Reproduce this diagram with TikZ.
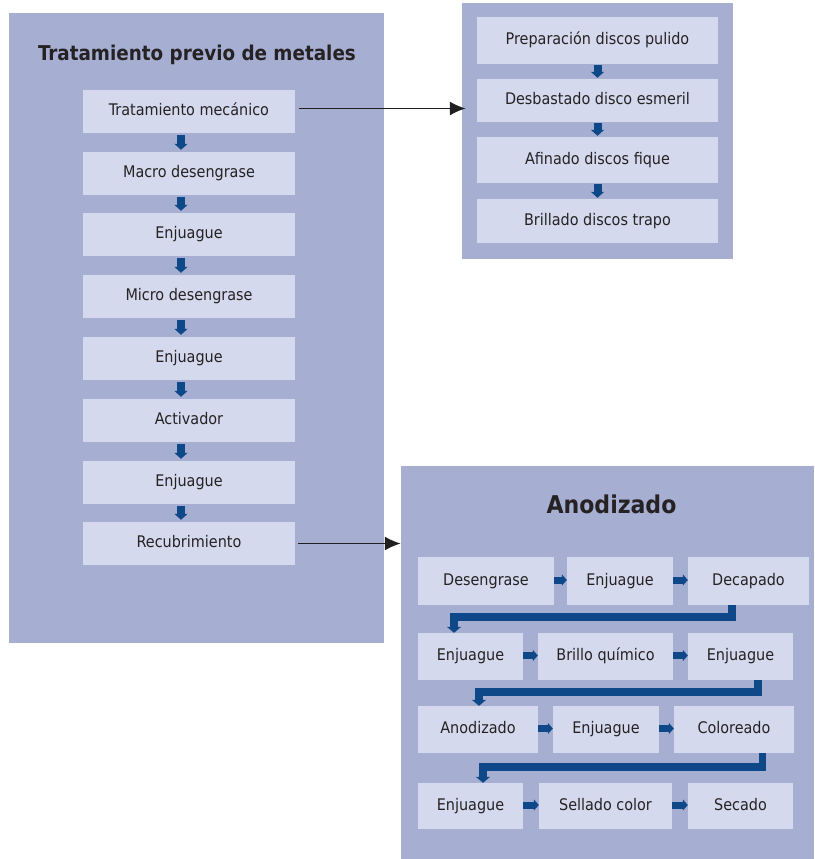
\documentclass[tikz,border=0pt]{standalone}
\usepackage{fontspec}
\setmainfont{DejaVu Sans Condensed}
\usetikzlibrary{arrows.meta}
\definecolor{panelc}{RGB}{166,174,210}
\definecolor{boxc}{RGB}{212,217,237}
\definecolor{flowc}{RGB}{14,72,136}
\definecolor{inkc}{RGB}{38,34,36}
\definecolor{linkc}{RGB}{32,32,32}
\begin{document}
\begin{tikzpicture}[x=1pt,y=-1pt,
  panel/.style={fill=panelc, draw=none, inner sep=0pt},
  stepbox/.style={fill=boxc, draw=none, inner sep=0pt, text=inkc,
    font=\fontsize{16}{18}\selectfont, text height=12.5pt, text depth=4pt},
  heading/.style={text=inkc, anchor=base, inner sep=0pt},
  down/.style={draw=flowc, line width=8pt, -{Triangle[length=6pt,width=13pt]}},
  right/.style={draw=flowc, line width=7pt, -{Triangle[length=5pt,width=11pt]}},
  flow/.style={draw=flowc, line width=7.5pt, -{Triangle[length=6pt,width=14pt]}},
  link/.style={draw=linkc, line width=1.7pt, -{Latex[length=16pt,width=14pt]}}]
\useasboundingbox (0,0) rectangle (814,859);

% panels
\node[panel, minimum width=375pt, minimum height=630pt] (pre) at (196.5,328) {};
\node[panel, minimum width=271pt, minimum height=256pt] (pul) at (597.5,131) {};
\node[panel, minimum width=413pt, minimum height=393pt] (ano) at (607.5,662.5) {};

% titles
\node[heading, font=\bfseries\fontsize{20.4}{24}\selectfont] (t1) at (197,60) {Tratamiento previo de metales};
\node[heading, font=\bfseries\fontsize{24.5}{28}\selectfont] (t2) at (611.5,513) {Anodizado};

% pre-treatment column
\foreach \n/\y/\txt in {m1/111.5/Tratamiento mecánico, m2/173.5/Macro desengrase,
    m3/234.5/Enjuague, m4/296.5/Micro desengrase, m5/358.5/Enjuague,
    m6/420.5/Activador, m7/482.5/Enjuague, m8/543.5/Recubrimiento}
  \node[stepbox, minimum width=212pt, minimum height=43pt] (\n) at (189,\y) {\txt};
\foreach \a/\b in {m1/m2,m2/m3,m3/m4,m4/m5,m5/m6,m6/m7,m7/m8}
  \draw[down, shorten <=2pt, shorten >=2pt] ([xshift=-8pt]\a.south) -- ([xshift=-8pt]\b.north);

% polishing column
\node[stepbox, minimum width=241pt, minimum height=47pt] (p1) at (597.5,40.5) {Preparación discos pulido};
\node[stepbox, minimum width=241pt, minimum height=43pt] (p2) at (597.5,100.5) {Desbastado disco esmeril};
\node[stepbox, minimum width=241pt, minimum height=46pt] (p3) at (597.5,160) {Afinado discos fique};
\node[stepbox, minimum width=241pt, minimum height=44pt] (p4) at (597.5,221) {Brillado discos trapo};
\foreach \a/\b in {p1/p2,p2/p3,p3/p4}
  \draw[down, shorten <=1pt, shorten >=1pt] (\a.south) -- (\b.north);

% anodizing rows
\node[stepbox, minimum width=136pt, minimum height=48pt] (a1) at (486,581) {Desengrase};
\node[stepbox, minimum width=106pt, minimum height=48pt] (a2) at (620,581) {Enjuague};
\node[stepbox, minimum width=121pt, minimum height=48pt] (a3) at (748.5,581) {Decapado};
\node[stepbox, minimum width=105pt, minimum height=47pt] (a4) at (470.5,656.5) {Enjuague};
\node[stepbox, minimum width=135pt, minimum height=47pt] (a5) at (605.5,656.5) {Brillo químico};
\node[stepbox, minimum width=105pt, minimum height=47pt] (a6) at (740.5,656.5) {Enjuague};
\node[stepbox, minimum width=120pt, minimum height=47pt] (a7) at (478,729.5) {Anodizado};
\node[stepbox, minimum width=106pt, minimum height=47pt] (a8) at (606,729.5) {Enjuague};
\node[stepbox, minimum width=120pt, minimum height=47pt] (a9) at (734,729.5) {Coloreado};
\node[stepbox, minimum width=105pt, minimum height=46pt] (a10) at (470.5,806) {Enjuague};
\node[stepbox, minimum width=133pt, minimum height=46pt] (a11) at (605.5,806) {Sellado color};
\node[stepbox, minimum width=105pt, minimum height=46pt] (a12) at (740.5,806) {Secado};

\foreach \a/\b in {a1/a2,a2/a3,a4/a5,a5/a6,a7/a8,a8/a9,a10/a11,a11/a12}
  \draw[right] ([yshift=1pt]\a.east) -- ([yshift=1pt]\b.west);

\draw[flow] ([xshift=-16.5pt]a3.south) -- ++(0,12) -| ([xshift=-16.5pt]a4.north);
\draw[flow] ([xshift=17.5pt]a6.south) -- ++(0,12) -| ([xshift=1pt]a7.north);
\draw[flow] ([xshift=28.5pt]a9.south) -- ++(0,14) -| ([xshift=12.5pt]a10.north);

% links between panels
\draw[link] ([shift={(4,-3)}]m1.east) -- ([shift={(4,-3)}]m1.east -| pul.west);
\draw[link] ([xshift=3pt]m8.east) -- (m8.east -| ano.west);
\end{tikzpicture}
\end{document}
